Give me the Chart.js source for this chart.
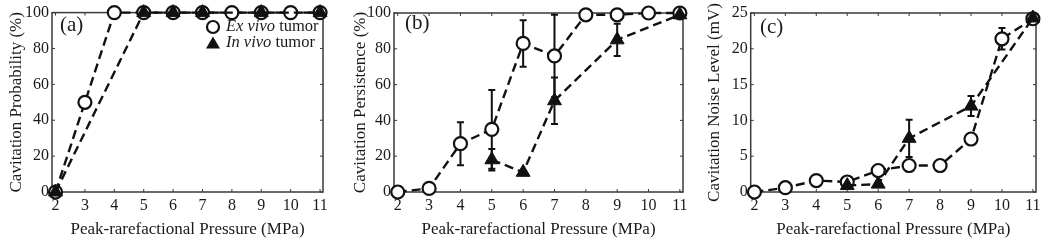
<!DOCTYPE html>
<html>
<head>
<meta charset="utf-8">
<script src="https://cdn.jsdelivr.net/npm/chart.js@4"></script>
<style>
  html, body { margin: 0; padding: 0; background: #fff; }
  .panel { position: absolute; top: 0; width: 350px; height: 249px; }
</style>
</head>
<body>
<div class="panel" style="left:0"><canvas id="chartA" width="350" height="249"></canvas></div>
<div class="panel" style="left:350px"><canvas id="chartB" width="350" height="249"></canvas></div>
<div class="panel" style="left:700px"><canvas id="chartC" width="350" height="249"></canvas></div>
<script>
(function () {

  // pressure values (MPa)
  const pressure       = [2, 3, 4, 5, 6, 7, 8, 9, 10, 11];
  const pressureInVivo = [5, 6, 7, 9, 11];
  const probPressureInVivo = [2, 5, 6, 7, 9, 11];

  // (a) cavitation probability (%)
  const probExVivo = [0, 50, 100, 100, 100, 100, 100, 100, 100, 100];
  const probInVivo = [0, 100, 100, 100, 100, 100];

  // (b) cavitation persistence (%)
  const persistExVivo    = [0, 2, 27, 35, 83, 76, 99, 99, 100, 100];
  const persistExVivoErr = [0, 0, 12, 22, 13, 23, 0, 0, 0, 0];
  const persistInVivo    = [18, 11, 51, 85, 99];
  const persistInVivoErr = [6, 0, 13, 9, 0];

  // (c) cavitation noise level (mV)
  const noiseExVivo    = [0, 0.6, 1.6, 1.4, 3.0, 3.7, 3.7, 7.4, 21.4, 24.2];
  const noiseExVivoErr = [0, 0, 0, 0, 0, 0, 0, 0, 1.5, 0];
  const noiseInVivo    = [0.9, 1.1, 7.5, 12, 24.3];
  const noiseInVivoErr = [0, 0, 2.6, 1.4, 0];

  const serif   = '"Liberation Serif", "DejaVu Serif", serif';
  const inkText = '#1a1a1a';
  const inkLine = '#111';

  const toPoints = (xs, ys) => xs.map((x, i) => ({ x: x, y: ys[i] }));

  // box around the plot with inward ticks on all four sides
  const framePlugin = {
    id: 'frame',
    beforeDatasetsDraw(chart) {
      const { ctx, chartArea: a, scales: { x, y } } = chart;
      ctx.save();
      ctx.strokeStyle = '#3a3a3a';
      ctx.lineWidth = 1.5;
      ctx.strokeRect(a.left, a.top, a.right - a.left, a.bottom - a.top);
      ctx.lineWidth = 1;
      ctx.beginPath();
      x.ticks.forEach(t => {
        const px = x.getPixelForValue(t.value);
        ctx.moveTo(px, a.bottom); ctx.lineTo(px, a.bottom - 3);
        ctx.moveTo(px, a.top);    ctx.lineTo(px, a.top + 3);
      });
      y.ticks.forEach(t => {
        const py = y.getPixelForValue(t.value);
        ctx.moveTo(a.left, py);  ctx.lineTo(a.left + 3, py);
        ctx.moveTo(a.right, py); ctx.lineTo(a.right - 3, py);
      });
      ctx.stroke();
      ctx.restore();
    }
  };

  // vertical error bars with caps, drawn under the markers
  const errorBarPlugin = {
    id: 'errorBars',
    beforeDatasetsDraw(chart) {
      const { ctx, scales: { x, y } } = chart;
      ctx.save();
      ctx.strokeStyle = inkLine;
      ctx.lineWidth = 2;
      chart.data.datasets.forEach(ds => {
        if ( !ds.errors ) {
          return;
        }
        ds.data.forEach((p, i) => {
          const e = ds.errors[i];
          if ( !e ) {
            return;
          }
          const px = x.getPixelForValue(p.x);
          const top = y.getPixelForValue(p.y + e);
          const bot = y.getPixelForValue(p.y - e);
          ctx.beginPath();
          ctx.moveTo(px, top); ctx.lineTo(px, bot);
          ctx.moveTo(px - 3.5, top); ctx.lineTo(px + 3.5, top);
          ctx.moveTo(px - 3.5, bot); ctx.lineTo(px + 3.5, bot);
          ctx.stroke();
        });
      });
      ctx.restore();
    }
  };

  // panel letter and the (mixed italic) legend of panel (a)
  const panelTextPlugin = {
    id: 'panelText',
    afterDraw(chart, args, opts) {
      const ctx = chart.ctx;
      ctx.save();
      ctx.fillStyle = inkText;
      ctx.textBaseline = 'middle';
      ctx.font = '21px ' + serif;
      ctx.fillText(opts.label, opts.labelX, opts.labelY);

      if ( opts.legend ) {
        const rows = [
          { italic: 'Ex vivo', rest: ' tumor', y: 27, marker: 'circle' },
          { italic: 'In vivo', rest: ' tumor', y: 43, marker: 'triangle' }
        ];
        rows.forEach(r => {
          const mx = 213;
          ctx.beginPath();
          if ( r.marker === 'circle' ) {
            ctx.arc(mx, r.y, 6, 0, Math.PI * 2);
            ctx.fillStyle = '#fff';
            ctx.fill();
            ctx.lineWidth = 2.2;
            ctx.strokeStyle = inkLine;
            ctx.stroke();
          } else {
            ctx.moveTo(mx, r.y - 6.5);
            ctx.lineTo(mx + 7, r.y + 5.5);
            ctx.lineTo(mx - 7, r.y + 5.5);
            ctx.closePath();
            ctx.fillStyle = inkLine;
            ctx.fill();
          }
          ctx.fillStyle = inkText;
          ctx.font = 'italic 16.5px ' + serif;
          ctx.fillText(r.italic, 226, r.y);
          const w = ctx.measureText(r.italic).width;
          ctx.font = '16.5px ' + serif;
          ctx.fillText(r.rest, 226 + w, r.y);
        });
      }
      ctx.restore();
    }
  };

  const exVivoStyle = {
    borderColor: inkLine,
    borderWidth: 2.4,
    borderDash: [9, 5],
    pointStyle: 'circle',
    pointRadius: 6.5,
    pointBorderWidth: 2.2,
    pointBackgroundColor: '#fff',
    pointBorderColor: inkLine,
    fill: false,
    showLine: true,
    clip: false,
    order: 2
  };

  const inVivoStyle = {
    borderColor: inkLine,
    borderWidth: 2.4,
    borderDash: [9, 5],
    pointStyle: 'triangle',
    pointRadius: 8,
    pointBorderWidth: 1,
    pointBackgroundColor: inkLine,
    pointBorderColor: inkLine,
    fill: false,
    showLine: true,
    spanGaps: true,
    clip: false,
    order: 1
  };

  const buildPanel = (el, p) => {
    new Chart(document.getElementById(el), {
      type: 'scatter',
      data: {
        datasets: [
          Object.assign({ label: 'Ex vivo tumor', data: p.exData, errors: p.exErr }, exVivoStyle),
          Object.assign({ label: 'In vivo tumor', data: p.inData, errors: p.inErr }, inVivoStyle)
        ]
      },
      options: {
        responsive: false,
        animation: false,
        devicePixelRatio: 1,
        layout: { padding: { left: 0, right: p.padRight, top: p.padTop, bottom: 0 } },
        plugins: {
          legend: { display: false },
          tooltip: { enabled: false },
          panelText: { label: p.label, labelX: p.labelX, labelY: p.labelY, legend: p.legend }
        },
        scales: {
          x: {
            type: 'linear',
            min: 1.88,
            max: 11.1,
            afterBuildTicks: s => { s.ticks = pressure.map(v => ({ value: v })); },
            afterFit: s => { s.height = 57; },
            grid: { display: false, drawTicks: false },
            border: { display: false },
            ticks: { color: inkText, padding: 4, maxRotation: 0, font: { family: serif, size: 16 } },
            title: {
              display: true,
              text: 'Peak-rarefactional Pressure (MPa)',
              color: inkText,
              padding: { top: 0, bottom: 9 },
              font: { family: serif, size: 17 }
            }
          },
          y: {
            type: 'linear',
            min: 0,
            max: p.yMax,
            ticks: { stepSize: p.yStep, color: inkText, padding: 3, font: { family: serif, size: 16 } },
            afterFit: s => { s.width = p.yWidth; },
            grid: { display: false, drawTicks: false },
            border: { display: false },
            title: {
              display: true,
              text: p.yTitle,
              color: inkText,
              padding: { top: p.yTitlePad, bottom: 0 },
              font: { family: serif, size: 17 }
            }
          }
        }
      },
      plugins: [framePlugin, errorBarPlugin, panelTextPlugin]
    });
  };

  buildPanel('chartA', {
    exData: toPoints(pressure, probExVivo),
    inData: toPoints(probPressureInVivo, probInVivo),
    yMax: 100, yStep: 20,
    yTitle: 'Cavitation Probability (%)',
    yWidth: 52, yTitlePad: 6.8, padRight: 27, padTop: 10.7,
    label: '(a)', labelX: 60, labelY: 25, legend: true
  });

  buildPanel('chartB', {
    exData: toPoints(pressure, persistExVivo), exErr: persistExVivoErr,
    inData: toPoints(pressureInVivo, persistInVivo), inErr: persistInVivoErr,
    yMax: 100, yStep: 20,
    yTitle: 'Cavitation Persistence (%)',
    yWidth: 44, yTitlePad: 0, padRight: 17, padTop: 13,
    label: '(b)', labelX: 55, labelY: 23, legend: false
  });

  buildPanel('chartC', {
    exData: toPoints(pressure, noiseExVivo), exErr: noiseExVivoErr,
    inData: toPoints(pressureInVivo, noiseInVivo), inErr: noiseInVivoErr,
    yMax: 25, yStep: 5,
    yTitle: 'Cavitation Noise Level (mV)',
    yWidth: 50.7, yTitlePad: 4.8, padRight: 14, padTop: 13,
    label: '(c)', labelX: 60, labelY: 27, legend: false
  });

})();
</script>
</body>
</html>
